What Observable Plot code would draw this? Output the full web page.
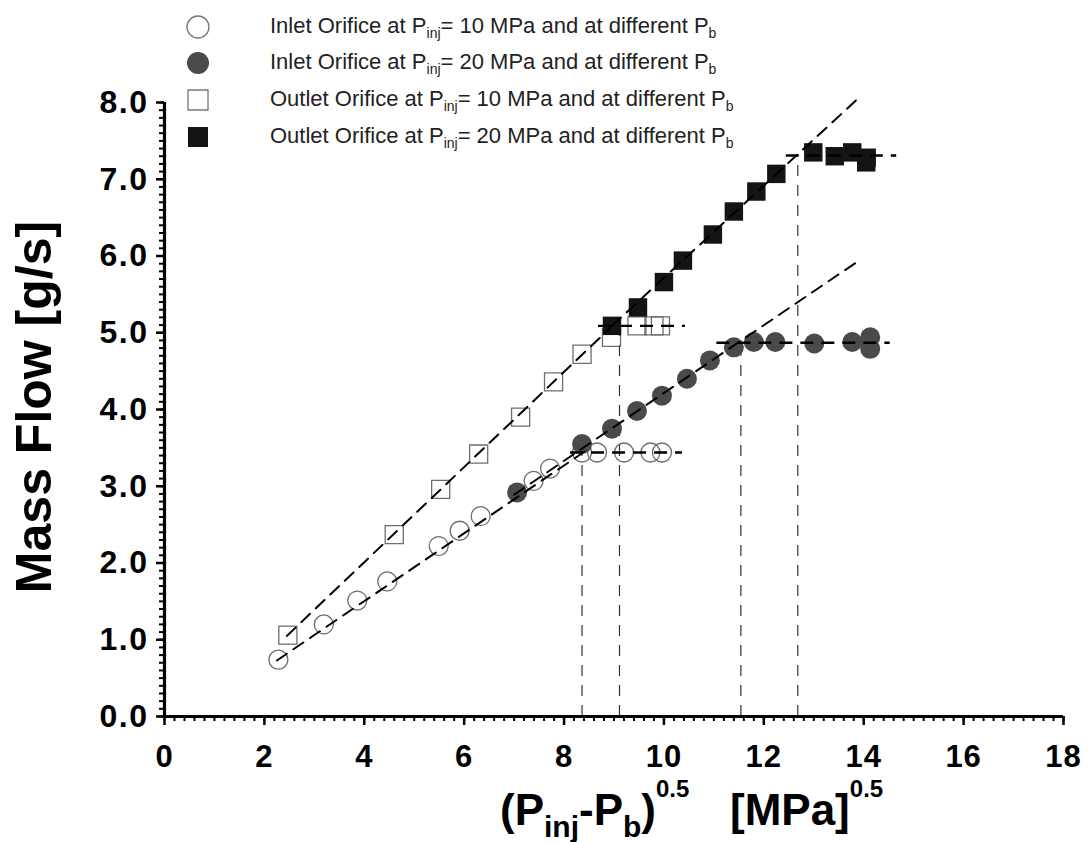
<!DOCTYPE html>
<html>
<head>
<meta charset="utf-8">
<script src="https://cdn.jsdelivr.net/npm/d3@7"></script>
<script src="https://cdn.jsdelivr.net/npm/@observablehq/plot@0.6"></script>
<style>
  body { margin: 0; background: #fff; }
  #chart { width: 1089px; height: 842px; }
</style>
</head>
<body>
<div id="chart"></div>
<script>
// ---- Data ----
const inlet10X  = [2.28, 3.19, 3.86, 4.46, 5.49, 5.91, 6.33, 7.39, 7.72, 8.36, 8.66, 9.20, 9.73, 9.96];
const inlet10Y  = [0.74, 1.20, 1.51, 1.76, 2.22, 2.42, 2.61, 3.07, 3.23, 3.44, 3.44, 3.44, 3.44, 3.44];

const inlet20X  = [7.06, 8.36, 8.96, 9.46, 9.96, 10.46, 10.92, 11.40, 11.80, 12.23, 13.01, 13.77, 14.13, 14.13];
const inlet20Y  = [2.92, 3.55, 3.75, 3.98, 4.18, 4.40, 4.64, 4.81, 4.88, 4.88, 4.86, 4.88, 4.94, 4.79];

const outlet10X = [2.47, 4.60, 5.53, 6.29, 7.13, 7.79, 8.36, 8.95, 9.46, 9.80, 9.93];
const outlet10Y = [1.06, 2.37, 2.96, 3.42, 3.90, 4.36, 4.72, 4.94, 5.09, 5.09, 5.09];

const outlet20X = [8.96, 9.48, 10.00, 10.38, 10.98, 11.40, 11.85, 12.25, 12.99, 13.42, 13.77, 14.05, 14.06];
const outlet20Y = [5.09, 5.33, 5.66, 5.94, 6.28, 6.58, 6.84, 7.07, 7.35, 7.30, 7.35, 7.22, 7.28];

// Linear fit lines (start / end points)
const fitSeries = ["inlet10", "inlet10", "inlet20", "inlet20", "outlet10", "outlet10", "outlet20", "outlet20"];
const fitX      = [2.25, 8.45, 7.00, 13.86, 2.45, 9.00, 8.96, 13.95];
const fitY      = [0.73, 3.47, 2.89, 5.92, 1.05, 5.11, 5.09, 8.09];

// Choked-flow plateaus
const plateauY  = [3.44, 5.09, 4.87, 7.31];
const plateauX1 = [8.13, 8.69, 11.06, 12.45];
const plateauX2 = [10.37, 10.43, 14.53, 14.66];

// Critical-point verticals
const vertX   = [8.36, 9.11, 11.54, 12.68];
const vertTop = [3.44, 5.00, 4.82, 7.30];

// Axis ticks
const xTicks = [0, 2, 4, 6, 8, 10, 12, 14, 16, 18];
const yTicks = [0, 1, 2, 3, 4, 5, 6, 7, 8];

// Legend
const legendOrifice = ["Inlet", "Inlet", "Outlet", "Outlet"];
const legendPinj    = [10, 20, 10, 20];

// ---- Build ----
const pts = (xs, ys) => xs.map((x, i) => ({x, y: ys[i]}));
const inlet10 = pts(inlet10X, inlet10Y);
const inlet20 = pts(inlet20X, inlet20Y);
const outlet10 = pts(outlet10X, outlet10Y);
const outlet20 = pts(outlet20X, outlet20Y);
const fits = fitX.map((x, i) => ({x, y: fitY[i], s: fitSeries[i]}));
const plateaus = plateauY.map((y, i) => ({y, x1: plateauX1[i], x2: plateauX2[i]}));
const verts = vertX.map((x, i) => ({x, top: vertTop[i]}));
const xMinor = d3.range(0, 18.001, 0.2);
const yMinor = d3.range(0, 8.001, 0.1);

const FONT = "Liberation Sans, Arial, Helvetica, sans-serif";
const dashed = {stroke: "#000", strokeWidth: 2, strokeDasharray: "12,8"};

const svgNode = Plot.plot({
  width: 1089,
  height: 842,
  marginLeft: 164,
  marginRight: 26,
  marginTop: 102,
  marginBottom: 126,
  x: {domain: [0, 18]},
  y: {domain: [0, 8]},
  style: {fontFamily: FONT, background: "#fff", color: "#000", overflow: "visible"},
  marks: [
    Plot.ruleX(verts, {x: "x", y1: 0, y2: "top", stroke: "#333", strokeWidth: 1.2, strokeDasharray: "11,9"}),
    Plot.dot(inlet10, {x: "x", y: "y", r: 9.5, fill: "none", stroke: "#6e6e6e", strokeWidth: 1.3}),
    Plot.dot(outlet10, {x: "x", y: "y", symbol: "square", r: 10.2, fill: "none", stroke: "#6e6e6e", strokeWidth: 1.3}),
    Plot.dot(inlet20, {x: "x", y: "y", r: 10, fill: "#4a4a4a"}),
    Plot.dot(outlet20, {x: "x", y: "y", symbol: "square", r: 10.4, fill: "#141414"}),
    Plot.line(fits, {x: "x", y: "y", z: "s", ...dashed}),
    Plot.ruleY(plateaus, {y: "y", x1: "x1", x2: "x2", stroke: "#000", strokeWidth: 2.4, strokeDasharray: "13,8"}),
    Plot.axisX({ticks: xMinor, tickSize: 5, strokeWidth: 2, tickFormat: () => "", label: null}),
    Plot.axisX({ticks: xTicks, tickSize: 9, strokeWidth: 2.5, tickPadding: 19, fontSize: 31, fontWeight: "bold", tickFormat: d => String(d), label: null}),
    Plot.axisY({ticks: yMinor, tickSize: 5, strokeWidth: 2, tickFormat: () => "", label: null}),
    Plot.axisY({ticks: yTicks, tickSize: 8, strokeWidth: 2.5, tickPadding: 8, fontSize: 32, fontWeight: "bold", tickFormat: d3.format(".1f"), label: null}),
    Plot.ruleY([0], {stroke: "#000", strokeWidth: 3.2}),
    Plot.ruleX([0], {stroke: "#000", strokeWidth: 3.2})
  ]
});
document.getElementById("chart").appendChild(svgNode);

const svg = d3.select(svgNode);
svg.selectAll("g[aria-label='y-axis tick label'] text").style("letter-spacing", "1.5px");
svg.selectAll("g[aria-label='x-axis tick label'] text").style("letter-spacing", "1px");

// Legend
const legendRowY = [27, 63, 100, 137];
const lg = svg.append("g").attr("font-family", FONT).attr("fill", "#222").attr("text-anchor", "start");
legendOrifice.forEach((name, i) => {
  const cy = legendRowY[i];
  const isCircle = name === "Inlet";
  const filled = legendPinj[i] === 20;
  const sym = d3.symbol().type(isCircle ? d3.symbolCircle : d3.symbolSquare).size(isCircle ? Math.PI * 11 * 11 : 20 * 20);
  lg.append("path")
    .attr("d", sym())
    .attr("transform", `translate(198,${cy})`)
    .attr("fill", filled ? (isCircle ? "#4a4a4a" : "#141414") : "none")
    .attr("stroke", filled ? "none" : "#777")
    .attr("stroke-width", 1.3);
  const t = lg.append("text").attr("x", 270).attr("y", cy + 6).attr("font-size", 22).attr("text-anchor", "start");
  t.append("tspan").text(`${name} Orifice at P`);
  t.append("tspan").attr("font-size", 14).attr("dy", 5).text("inj");
  t.append("tspan").attr("dy", -5).text(`= ${legendPinj[i]} MPa and at different P`);
  t.append("tspan").attr("font-size", 14).attr("dy", 5).text("b");
});

// Y-axis title
svg.append("text")
  .attr("transform", "translate(51,407) rotate(-90)")
  .attr("text-anchor", "middle")
  .attr("font-family", FONT)
  .attr("font-weight", "bold")
  .attr("font-size", 50)
  .attr("fill", "#000")
  .text("Mass Flow [g/s]");

// X-axis title
const xt = svg.append("text")
  .attr("x", 500).attr("y", 825)
  .attr("text-anchor", "start")
  .attr("font-family", FONT)
  .attr("font-weight", "bold")
  .attr("font-size", 44)
  .attr("fill", "#000");
xt.append("tspan").text("(P");
xt.append("tspan").attr("font-size", 30).attr("dy", 12).text("inj");
xt.append("tspan").attr("dy", -12).text("-P");
xt.append("tspan").attr("font-size", 30).attr("dy", 12).text("b");
xt.append("tspan").attr("dy", -12).text(")");
xt.append("tspan").attr("font-size", 24).attr("dy", -28).text("0.5");
xt.append("tspan").attr("x", 730).attr("dy", 28).text("[MPa]");
xt.append("tspan").attr("font-size", 24).attr("dy", -28).text("0.5");
</script>
</body>
</html>
